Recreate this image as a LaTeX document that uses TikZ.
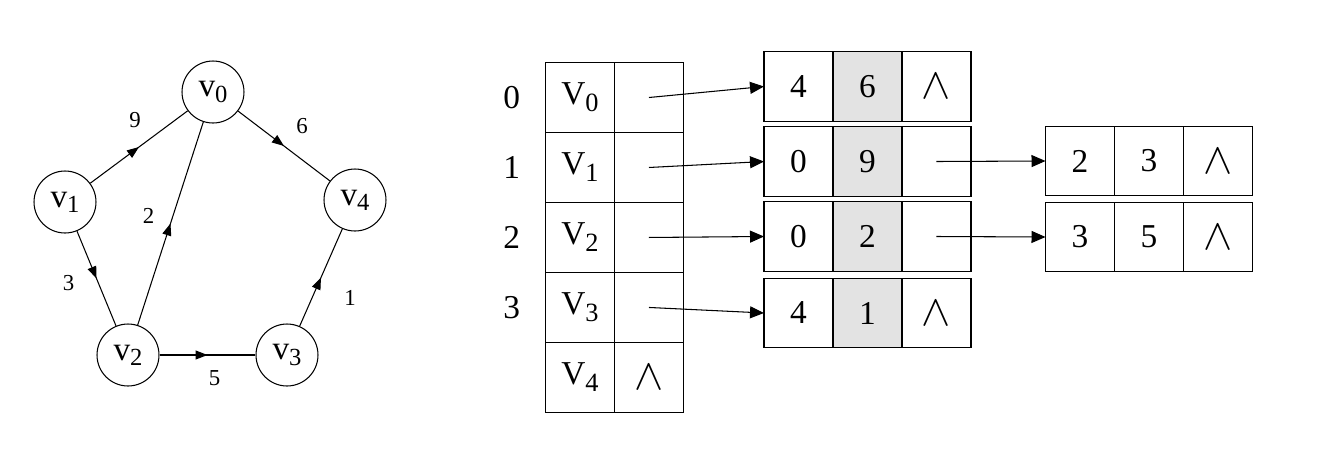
\documentclass[tikz,border=0pt]{standalone}
\usepackage{fontspec}
\setmainfont{Liberation Serif}
\usetikzlibrary{arrows.meta,positioning,decorations.markings}

\newcommand{\gv}[1]{v\raisebox{-3pt}{\fontsize{14}{14}\selectfont #1}}
\newcommand{\tv}[1]{V\raisebox{-4pt}{\fontsize{15}{15}\selectfont #1}}
\newcommand{\nil}{{\fontsize{23}{23}\selectfont$\wedge$}}

\begin{document}
\begin{tikzpicture}[x=0.02cm, y=-0.02cm, font=\fontsize{19}{19}\selectfont,
vert/.style={draw, circle, minimum size=1.24cm, inner sep=0pt, line width=0.6pt, font=\fontsize{19}{19}\selectfont},
edge/.style={line width=0.6pt, decoration={markings, mark=at position 0.5 with {\arrow{Triangle[length=2.4mm,width=1.8mm]}}}, postaction={decorate}},
lbl/.style={font=\fontsize{13}{13}\selectfont, inner sep=0pt},
cell/.style={draw, line width=0.6pt, minimum width=1.38cm, minimum height=1.4cm, inner sep=0pt, outer sep=0pt},
lcell/.style={cell, minimum height=1.39cm},
wcell/.style={lcell, fill=gray!22},
ptr/.style={line width=0.6pt, -{Triangle[length=2.8mm,width=2.4mm]}},
node distance=0pt]
\useasboundingbox (0,0) rectangle (1340,467);

% graph
\node[vert] (v0) at (213,92) {\gv{0}};
\node[vert] (v1) at (65,202) {\gv{1}};
\node[vert] (v4) at (355,200) {\gv{4}};
\node[vert] (v2) at (128,355) {\gv{2}};
\node[vert] (v3) at (287,355) {\gv{3}};
\draw[edge] (v1)--node[lbl, shift={(-4,-27)}]{9}(v0);
\draw[edge] (v0)--node[lbl, shift={(18,-20)}]{6}(v4);
\draw[edge] (v2)--node[lbl, shift={(-22,-8)}]{2}(v0);
\draw[edge] (v1)--node[lbl, shift={(-28,5)}]{3}(v2);
\draw[edge] (v2)--node[lbl, shift={(7,23)}]{5}(v3);
\draw[edge] (v3)--node[lbl, shift={(29,20)}]{1}(v4);

% vertex table
\node[cell] (h0) at (580,97.5) {\tv{0}};
\foreach \i [count=\j from 0] in {1,...,4}
  \node[cell, below=of h\j] (h\i) {\tv{\i}};
\foreach \i in {0,...,3}
  \node[cell, right=of h\i] (p\i) {};
\node[cell, right=of h4] (p4) {\nil};
\foreach \i in {0,...,3}
  \node[left=11pt of h\i] (idx\i) {\i};

% edge lists
\node[lcell] (n0a) at (798.5,86.5) {4};
\node[wcell, right=of n0a] (n0b) {6};
\node[lcell, right=of n0b] (n0c) {\nil};
\node[lcell] (n1a) at (798.5,161.5) {0};
\node[wcell, right=of n1a] (n1b) {9};
\node[lcell, right=of n1b] (n1c) {};
\node[lcell] (n2a) at (798.5,236.5) {0};
\node[wcell, right=of n2a] (n2b) {2};
\node[lcell, right=of n2b] (n2c) {};
\node[lcell] (n3a) at (798.5,313) {4};
\node[wcell, right=of n3a] (n3b) {1};
\node[lcell, right=of n3b] (n3c) {\nil};
\node[lcell] (m1a) at (1080,161) {2};
\node[lcell, right=of m1a] (m1b) {3};
\node[lcell, right=of m1b] (m1c) {\nil};
\node[lcell] (m2a) at (1080,237) {3};
\node[lcell, right=of m2a] (m2b) {5};
\node[lcell, right=of m2b] (m2c) {\nil};

\foreach \i in {0,...,3}
  \draw[ptr] (p\i.center)--(n\i a.west);
\draw[ptr] (n1c.center)--(m1a.west);
\draw[ptr] (n2c.center)--(m2a.west);
\end{tikzpicture}
\end{document}
